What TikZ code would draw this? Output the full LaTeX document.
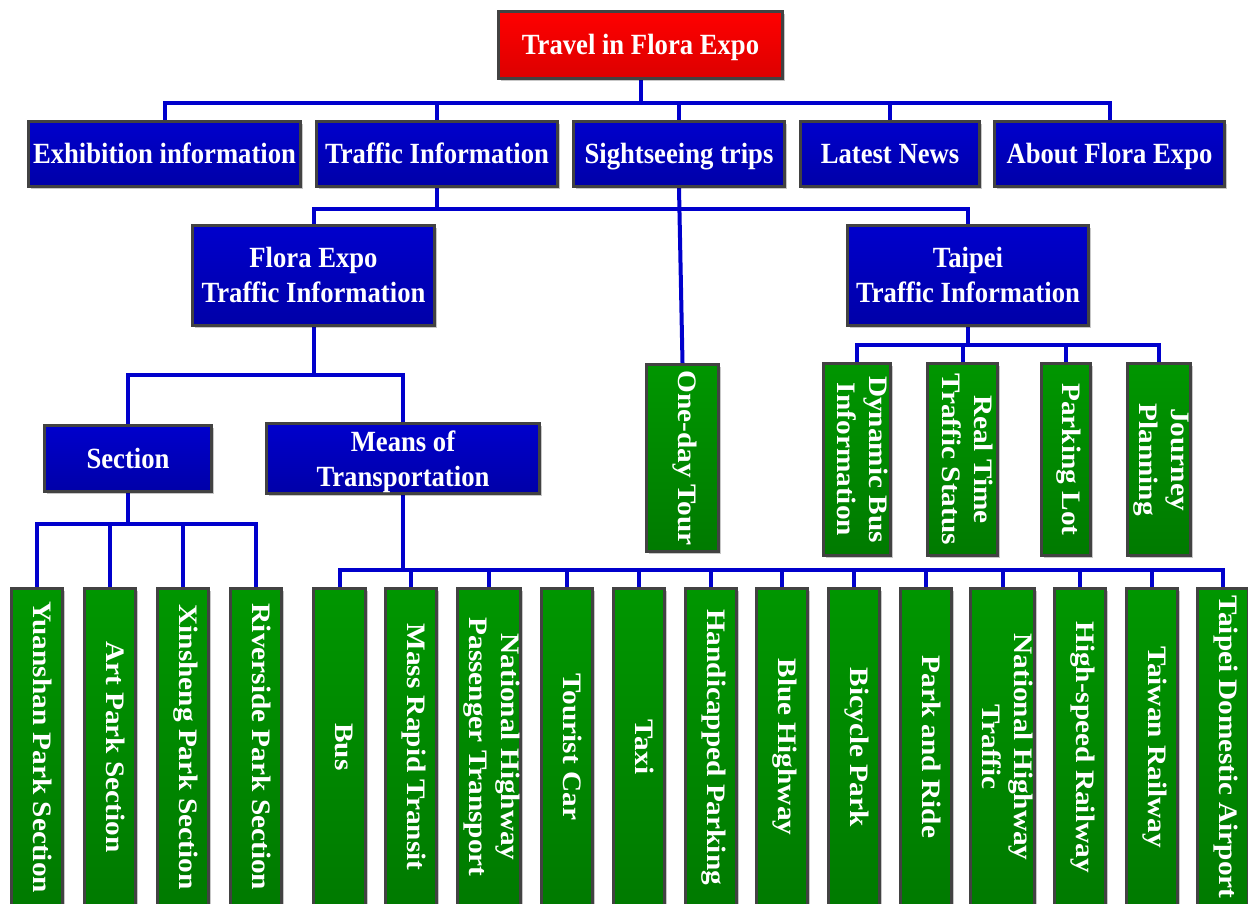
\documentclass[tikz,border=0pt]{standalone}
\usepackage{graphicx}
\usepackage{fontspec}
\setmainfont{Liberation Serif}
\usetikzlibrary{shadows,backgrounds}
\definecolor{cblue}{HTML}{0000CC}
\definecolor{bluetop}{HTML}{0000CC}
\definecolor{bluebot}{HTML}{0000A8}
\definecolor{greentop}{HTML}{009600}
\definecolor{greenbot}{HTML}{007A00}
\definecolor{redtop}{HTML}{FF0000}
\definecolor{redbot}{HTML}{DC0000}
\definecolor{edgegray}{HTML}{424242}
\newcommand{\htxt}[1]{\raisebox{-3pt}[\height][\depth]{\scalebox{0.91}[1]{\begin{tabular}{@{}c@{}}#1\end{tabular}}}}
\newcommand{\vtxt}[1]{\scalebox{0.91}[1]{\rotatebox{-90}{\raisebox{3pt}[\height][\depth]{\begin{tabular}{@{}c@{}}#1\end{tabular}}}}}
\tikzset{
  boxbase/.style={draw=edgegray, line width=3pt, inner sep=0pt, text=white,
    font=\fontsize{29.3}{35}\selectfont\bfseries,
    drop shadow={shadow xshift=2.5pt, shadow yshift=-2.5pt, opacity=0.22, fill=black}},
  redbox/.style={boxbase, top color=redtop, bottom color=redbot},
  bluebox/.style={boxbase, top color=bluetop, bottom color=bluebot},
  greenbox/.style={boxbase, top color=greentop, bottom color=greenbot},
  conn/.style={draw=cblue, line width=4pt},
}
\begin{document}
\begin{tikzpicture}[x=1pt,y=-1pt]
\useasboundingbox (0,0) rectangle (1248,904);
% top
\node[redbox, minimum width=284pt, minimum height=67pt] (top) at (640.5,45) {\htxt{Travel in Flora Expo}};
% level 1
\node[bluebox, minimum width=272pt, minimum height=65pt] (exh) at (164.5,154) {\htxt{Exhibition information}};
\node[bluebox, minimum width=241pt, minimum height=65pt] (traf) at (437,154) {\htxt{Traffic Information}};
\node[bluebox, minimum width=211pt, minimum height=65pt] (sight) at (679,154) {\htxt{Sightseeing trips}};
\node[bluebox, minimum width=179pt, minimum height=65pt] (news) at (890,154) {\htxt{Latest News}};
\node[bluebox, minimum width=230pt, minimum height=65pt] (about) at (1109.5,154) {\htxt{About Flora Expo}};
% level 2
\node[bluebox, minimum width=242pt, minimum height=100pt] (flora) at (313.5,275.5) {\htxt{Flora Expo\\Traffic Information}};
\node[bluebox, minimum width=241pt, minimum height=100pt] (taipei) at (968,275.5) {\htxt{Taipei\\Traffic Information}};
\node[greenbox, minimum width=72pt, minimum height=187pt] (oneday) at (682.5,458) {\vtxt{One-day Tour}};
% level 3
\node[bluebox, minimum width=167pt, minimum height=66pt] (section) at (128,458.5) {\htxt{Section}};
\node[bluebox, minimum width=273pt, minimum height=66pt] (means) at (403,458.5) {\htxt{Means of\\Transportation}};
\node[greenbox, minimum width=67pt, minimum height=192pt] (dyn) at (857,459.5) {\vtxt{Dynamic Bus\\Information}};
\node[greenbox, minimum width=70pt, minimum height=192pt] (real) at (962.5,459.5) {\vtxt{Real Time\\Traffic Status}};
\node[greenbox, minimum width=49pt, minimum height=192pt] (park) at (1066,459.5) {\vtxt{Parking Lot}};
\node[greenbox, minimum width=63pt, minimum height=192pt] (journey) at (1159,459.5) {\vtxt{Journey\\Planning}};
% bottom row
\node[greenbox, minimum width=51pt, minimum height=318pt] (yuan) at (37,747) {\vtxt{Yuanshan Park Section}};
\node[greenbox, minimum width=51pt, minimum height=318pt] (art) at (110,747) {\vtxt{Art Park Section}};
\node[greenbox, minimum width=51pt, minimum height=318pt] (xin) at (183,747) {\vtxt{Xinsheng Park Section}};
\node[greenbox, minimum width=51pt, minimum height=318pt] (river) at (256,747) {\vtxt{Riverside Park Section}};
\node[greenbox, minimum width=52pt, minimum height=318pt] (bus) at (339.5,747) {\vtxt{Bus}};
\node[greenbox, minimum width=51pt, minimum height=318pt] (mrt) at (411,747) {\vtxt{Mass Rapid Transit}};
\node[greenbox, minimum width=63pt, minimum height=318pt] (nhpt) at (489,747) {\vtxt{National Highway\\Passenger Transport}};
\node[greenbox, minimum width=51pt, minimum height=318pt] (tour) at (567,747) {\vtxt{Tourist Car}};
\node[greenbox, minimum width=51pt, minimum height=318pt] (taxi) at (639,747) {\vtxt{Taxi}};
\node[greenbox, minimum width=51pt, minimum height=318pt] (handi) at (711,747) {\vtxt{Handicapped Parking}};
\node[greenbox, minimum width=51pt, minimum height=318pt] (bluehw) at (782,747) {\vtxt{Blue Highway}};
\node[greenbox, minimum width=51pt, minimum height=318pt] (bike) at (854,747) {\vtxt{Bicycle Park}};
\node[greenbox, minimum width=51pt, minimum height=318pt] (pr) at (926,747) {\vtxt{Park and Ride}};
\node[greenbox, minimum width=62pt, minimum height=318pt] (nht) at (1002.5,747) {\vtxt{National Highway\\Traffic}};
\node[greenbox, minimum width=51pt, minimum height=318pt] (hsr) at (1080,747) {\vtxt{High-speed Railway}};
\node[greenbox, minimum width=51pt, minimum height=318pt] (tra) at (1152,747) {\vtxt{Taiwan Railway}};
\node[greenbox, minimum width=51pt, minimum height=318pt] (air) at (1223,747) {\vtxt{Taipei Domestic Airport}};
% bus levels
\coordinate (y1) at (0,103);
\coordinate (y2) at (0,209);
\coordinate (y3) at (0,375);
\coordinate (y4) at (0,524);
\coordinate (y5) at (0,570);
\coordinate (y6) at (0,345);
\begin{scope}[on background layer]
\fill[white] (0,0) rectangle (1248,904);
\foreach \c in {exh,traf,sight,news,about}
  \draw[conn] (top.south) -- (top.south |- y1) -| (\c.north);
\foreach \c in {flora,taipei}
  \draw[conn] (traf.south) -- (traf.south |- y2) -| (\c.north);
\draw[conn] (sight.south) -- (oneday.north);
\foreach \c in {section,means}
  \draw[conn] (flora.south) -- (flora.south |- y3) -| (\c.north);
\foreach \c in {yuan,art,xin,river}
  \draw[conn] (section.south) -- (section.south |- y4) -| (\c.north);
\foreach \c in {bus,mrt,nhpt,tour,taxi,handi,bluehw,bike,pr,nht,hsr,tra,air}
  \draw[conn] (means.south) -- (means.south |- y5) -| (\c.north);
\foreach \c in {dyn,real,park,journey}
  \draw[conn] (taipei.south) -- (taipei.south |- y6) -| (\c.north);
\end{scope}
\end{tikzpicture}
\end{document}
